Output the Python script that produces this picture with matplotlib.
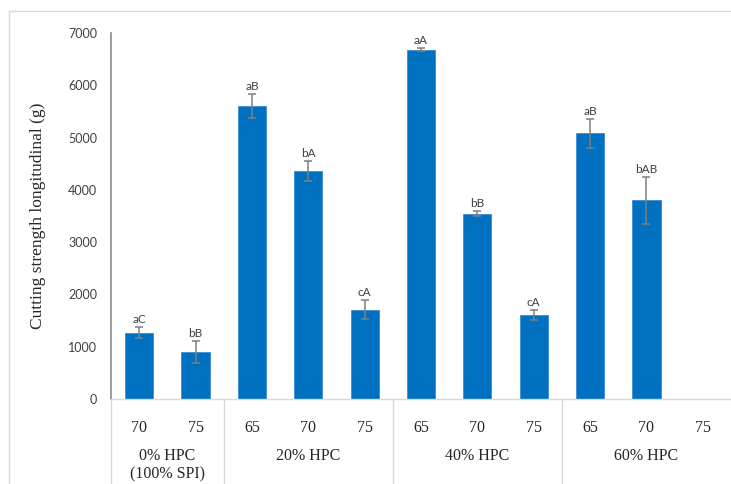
import numpy as np
import matplotlib.pyplot as plt
from matplotlib.patches import Rectangle

groups = ['0% HPC', '20% HPC', '40% HPC', '60% HPC']
group_sizes = [2, 3, 3, 3]
temps = ['70', '75', '65', '70', '75', '65', '70', '75', '65', '70', '75']
values = [1270, 900, 5600, 4360, 1710, 6680, 3545, 1610, 5080, 3800, np.nan]
errors = [110, 210, 230, 190, 180, 30, 50, 95, 270, 450, np.nan]
letters = ['aC', 'bB', 'aB', 'bA', 'cA', 'aA', 'bB', 'cA', 'aB', 'bAB', '']

serif = 'Liberation Serif'
sans = 'Lato'

fig = plt.figure(figsize=(7.31, 4.84), dpi=100)
ax = fig.add_axes([111 / 731, 1 - 399 / 484, 620 / 731, 366 / 484])

x = np.arange(len(values))
ax.bar(x, values, width=0.5, color='#0070C0', edgecolor='#3d8bd4', linewidth=0.6, zorder=2)
ax.errorbar(x, values, yerr=errors, fmt='none', ecolor='#7f7f7f', elinewidth=1.1,
            capsize=3, capthick=1.1, zorder=3)

for xi, v, e, lab in zip(x, values, errors, letters):
    if lab:
        ax.annotate(lab, (xi, v + e), xytext=(0, 1.5), textcoords='offset points',
                    ha='center', va='bottom', fontsize=8.5, family=sans, color='#404040')

ax.set_xlim(-0.5, len(values) - 0.5)
ax.set_ylim(0, 7000)
ax.set_yticks(range(0, 7001, 1000))
ax.tick_params(axis='y', length=0, pad=10, labelsize=9, labelcolor='#404040')
for t in ax.get_yticklabels():
    t.set_family(sans)

ax.set_xticks(x)
ax.set_xticklabels(temps, family=serif, fontsize=11.5, color='#262626')
ax.tick_params(axis='x', length=0, pad=15)

for s in ['top', 'right']:
    ax.spines[s].set_visible(False)
ax.spines['left'].set_color('#8c8c8c')
ax.spines['left'].set_linewidth(1.2)
ax.spines['bottom'].set_color('#d9d9d9')
ax.spines['bottom'].set_linewidth(1.0)

ax.set_ylabel('Cutting strength longitudinal (g)', family=serif, fontsize=12.5,
              color='#262626', labelpad=16)

trans = ax.get_xaxis_transform()
start = 0
for g, n in zip(groups, group_sizes):
    ax.plot([start - 0.5, start - 0.5], [0, -0.25], transform=trans, color='#d9d9d9',
            lw=1.0, clip_on=False)
    center = start + (n - 1) / 2
    ax.text(center, -0.156, g, transform=trans, ha='center', va='center',
            family=serif, fontsize=11.5, color='#262626')
    start += n
ax.text(0.5, -0.205, '(100% SPI)', transform=trans, ha='center', va='center',
        family=serif, fontsize=11.5, color='#262626')

fig.patches.append(Rectangle((9 / 731, -0.1), 1.2, 1 - 11 / 484 + 0.1,
                             transform=fig.transFigure, fill=False,
                             edgecolor='#d9d9d9', linewidth=1.0))

fig.savefig('out.png', dpi=100)
